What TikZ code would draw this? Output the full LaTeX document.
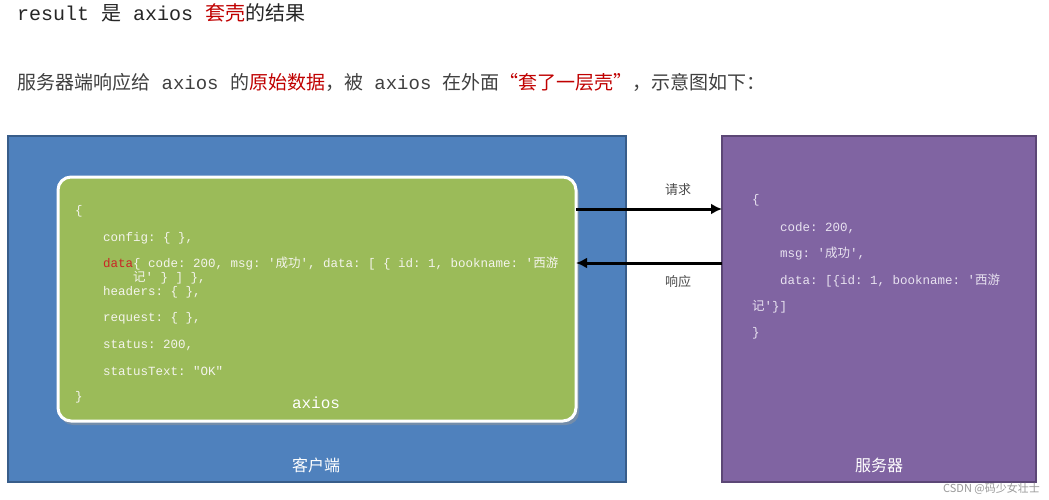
\documentclass[tikz,border=0pt]{standalone}
\usepackage{fontspec}
\usetikzlibrary{arrows.meta}
\setmainfont{Liberation Serif}
\setmonofont{Liberation Mono}
\newfontfamily\cjk{Noto Sans CJK SC}
\newcommand\zh[1]{{\cjk #1}}
\definecolor{cliblue}{HTML}{4F81BD}
\definecolor{cliborder}{HTML}{385D8A}
\definecolor{srvpurple}{HTML}{8064A2}
\definecolor{srvborder}{HTML}{5C4776}
\definecolor{axgreen}{HTML}{9BBB59}
\definecolor{hlred}{HTML}{C00000}
\definecolor{codetxt}{HTML}{F4F4EC}
\definecolor{srvtxt}{HTML}{E8E2F0}
\begin{document}
\begin{tikzpicture}[x=1pt,y=-1pt,
  heading/.style={anchor=base west,inner sep=0pt,font=\ttfamily\fontsize{20}{24}\selectfont,text=black!85},
  intro/.style={anchor=base west,inner sep=0pt,font=\ttfamily\fontsize{19}{22}\selectfont,text=black!75},
  codeline/.style={anchor=base west,inner sep=0pt,font=\ttfamily\fontsize{12.5}{15}\selectfont,text=codetxt},
  srvline/.style={anchor=base west,inner sep=0pt,font=\ttfamily\fontsize{12.5}{15}\selectfont,text=srvtxt},
  boxlabel/.style={inner sep=0pt,font=\cjk\fontsize{16}{19}\selectfont,text=white},
  arrlabel/.style={inner sep=0pt,font=\cjk\fontsize{13}{16}\selectfont,text=black!70},
  conn/.style={line width=3pt,-{Latex[length=11pt,width=11pt]}}
]
\useasboundingbox (0,0) rectangle (1049,500);
\fill[white] (0,0) rectangle (1049,500);

% headings
\node[heading] (t1) at (17,21) {result \zh{是} axios \textcolor{hlred}{\zh{套壳}}\zh{的结果}};
\node[intro] (t2) at (17,90) {\zh{服务器端响应给} axios \zh{的}\textcolor{hlred}{\zh{原始数据}}\zh{，被} axios \zh{在外面}\textcolor{hlred}{\zh{“套了一层壳”}}\zh{，示意图如下：}};

% client box
\draw[fill=cliblue,draw=cliborder,line width=1.5pt] (8,136) rectangle (626,482);
\node[boxlabel] (cli) at (316,465) {客户端};

% server box
\draw[fill=srvpurple,draw=srvborder,line width=1.5pt] (722,136) rectangle (1036,482);
\node[boxlabel] (srv) at (879,465) {服务器};

% axios box
\fill[black!40,opacity=0.5,rounded corners=13pt] (60,181) rectangle (579,425);
\draw[fill=axgreen,draw=white,line width=3pt,rounded corners=13pt] (58,177) rectangle (576,421);
\node[inner sep=0pt,font=\ttfamily\fontsize{16}{19}\selectfont,text=white] (ax) at (316,403) {axios};

\node[codeline] (c0) at (75,214) {\{};
\node[codeline] (c1) at (103,241) {config: \{ \},};
\node[codeline,text=hlred!85!white] (c2a) at (103,267) {data};
\node[codeline] (c2b) at (133,267) {\{ code: 200, msg: '\zh{成功}', data: [ \{ id: 1, bookname: '\zh{西游}};
\node[codeline] (c2c) at (133,281) {\zh{记}' \} ] \},};
\node[codeline] (c3) at (103,295) {headers: \{ \},};
\node[codeline] (c4) at (103,321) {request: \{ \},};
\node[codeline] (c5) at (103,348) {status: 200,};
\node[codeline] (c6) at (103,375) {statusText: ″OK″};
\node[codeline] (c7) at (75,400) {\}};

% server text
\node[srvline] (s0) at (752,203) {\{};
\node[srvline] (s1) at (780,231) {code: 200,};
\node[srvline] (s2) at (780,257) {msg: '\zh{成功}',};
\node[srvline] (s3) at (780,284) {data: [\{id: 1, bookname: '\zh{西游}};
\node[srvline] (s4) at (752,310) {\zh{记}'\}]};
\node[srvline] (s5) at (752,336) {\}};

% connectors
\coordinate (reqA) at (576,209);
\coordinate (reqB) at (722,209);
\coordinate (resA) at (722,263);
\coordinate (resB) at (576,263);
\draw[conn] (reqA) -- (reqB);
\draw[conn] (resA) -- (resB);
\node[arrlabel] (req) at (678,190) {请求};
\node[arrlabel] (res) at (678,282) {响应};

% watermark
\node[inner sep=0pt,anchor=east,font=\cjk\fontsize{11}{13}\selectfont,text=black!40] (wm) at (1040,489) {CSDN @码少女壮士};
\end{tikzpicture}
\end{document}
